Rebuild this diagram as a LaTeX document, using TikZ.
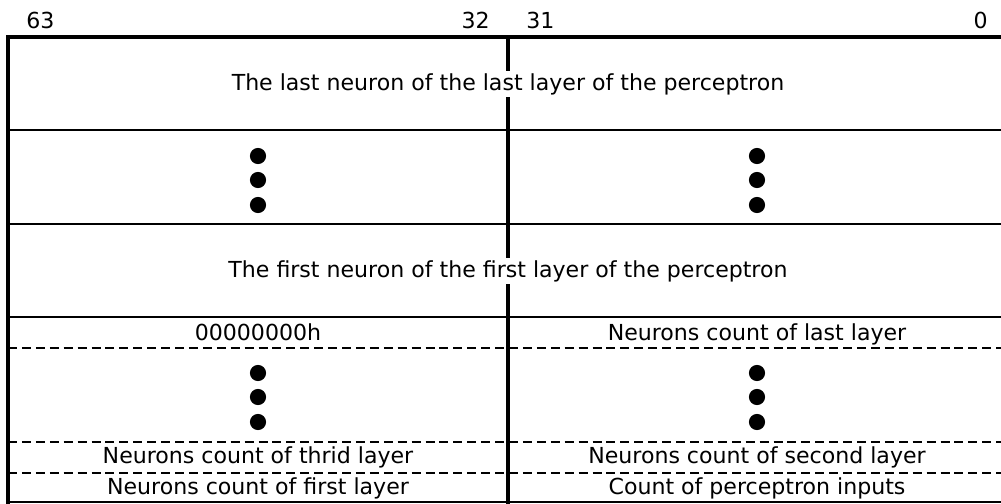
\documentclass[tikz,border=0pt]{standalone}
\usepackage{fontspec}
\setmainfont{DejaVu Sans}
\usetikzlibrary{positioning}
\tikzset{
  every node/.style={font=\fontsize{15.7}{18}\selectfont, inner sep=1.5pt},
  frame/.style={line width=2.6pt, line cap=rect},
  rule/.style={line width=.8pt},
  slot/.style={rule, dash pattern=on 6.4pt off 3.5pt},
  field/.style={fill=white, anchor=base},
  bitno/.style={inner sep=0pt},
  vdot/.style={circle, fill=black, inner sep=0pt, minimum size=11.5pt}
}

\begin{document}
\begin{tikzpicture}[x=0.25mm,y=-0.25mm]
\useasboundingbox (0,0) rectangle (1001,503);

% register frame: left edge, top edge and the 63..32 / 31..0 split
\coordinate (tl) at (8,37);
\coordinate (tr) at (1001,37);
\coordinate (bl) at (8,503);
\coordinate (tm) at (508,37);
\coordinate (bm) at (508,503);

% row separators
\foreach \y in {130,224,317,502}
  \draw[rule] (8,\y) -- (1001,\y);
\foreach \y in {348,442,473}
  \draw[slot] (8,\y) -- (1001,\y);

\draw[frame] (bl) -- (tl) -- (tr);
\draw[frame] (tm) -- (bm);

% bit numbers
\node[bitno, anchor=base west] (b63) at (26,28) {63};
\node[bitno, anchor=base east] (b32) at (490,28) {32};
\node[bitno, anchor=base west] (b31) at (526,28) {31};
\node[bitno, anchor=base east] (b0) at (988,28) {0};

% weights of the neurons, 64 bits wide
\node[field] (lastneuron) at (508,90)
  {The last neuron of the last layer of the perceptron};
\node[field] (firstneuron) at (508,277)
  {The first neuron of the first layer of the perceptron};

% layer sizes, two per row
\node[field] (pad) at (258,340) {00000000h};
\node[field] (nlast) at (757,340) {Neurons count of last layer};
\node[field] (nthird) at (258,463) {Neurons count of thrid layer};
\node[field] (nsecond) at (757,463) {Neurons count of second layer};
\node[field] (nfirst) at (258,494) {Neurons count of first layer};
\node[field] (ninputs) at (757,494) {Count of perceptron inputs};

% vertical ellipses
\foreach \x/\c in {258/L,757/R}{
  \foreach \y/\r in {156/a,180/b,205/c}
    \node[vdot] (up\c\r) at (\x,\y) {};
  \foreach \y/\r in {373/a,397/b,422/c}
    \node[vdot] (lo\c\r) at (\x,\y) {};
}

\end{tikzpicture}
\end{document}
